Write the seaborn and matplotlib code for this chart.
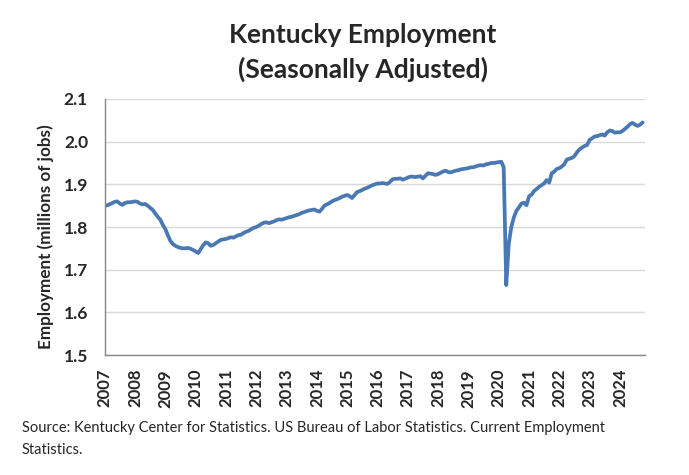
import numpy as np
import pandas as pd
import matplotlib
matplotlib.use('Agg')
import matplotlib.pyplot as plt
import seaborn as sns

# ---------------------------------------------------------
# data: Kentucky nonfarm employment, monthly, millions of jobs
# ---------------------------------------------------------
emp_2007 = [1.850, 1.851, 1.853, 1.856, 1.859, 1.860, 1.855, 1.852, 1.856, 1.858, 1.858, 1.859]
emp_2008 = [1.860, 1.859, 1.855, 1.853, 1.854, 1.850, 1.845, 1.840, 1.832, 1.824, 1.817, 1.805]
emp_2009 = [1.795, 1.780, 1.768, 1.760, 1.756, 1.753, 1.751, 1.750, 1.750, 1.751, 1.749, 1.746]
emp_2010 = [1.743, 1.739, 1.748, 1.757, 1.764, 1.762, 1.756, 1.758, 1.762, 1.766, 1.770, 1.771]
emp_2011 = [1.772, 1.774, 1.776, 1.775, 1.778, 1.781, 1.782, 1.786, 1.789, 1.791, 1.795, 1.798]
emp_2012 = [1.800, 1.803, 1.807, 1.810, 1.811, 1.809, 1.811, 1.813, 1.816, 1.818, 1.817, 1.819]
emp_2013 = [1.821, 1.823, 1.824, 1.826, 1.828, 1.830, 1.833, 1.835, 1.837, 1.839, 1.840, 1.841]
emp_2014 = [1.838, 1.836, 1.842, 1.850, 1.853, 1.856, 1.860, 1.863, 1.865, 1.868, 1.871, 1.873]
emp_2015 = [1.875, 1.872, 1.868, 1.875, 1.882, 1.884, 1.887, 1.890, 1.892, 1.895, 1.898, 1.900]
emp_2016 = [1.902, 1.902, 1.903, 1.902, 1.901, 1.906, 1.912, 1.913, 1.913, 1.914, 1.911, 1.913]
emp_2017 = [1.916, 1.918, 1.918, 1.917, 1.918, 1.919, 1.914, 1.920, 1.926, 1.925, 1.924, 1.922]
emp_2018 = [1.924, 1.927, 1.930, 1.932, 1.929, 1.928, 1.930, 1.932, 1.933, 1.935, 1.936, 1.937]
emp_2019 = [1.938, 1.940, 1.940, 1.942, 1.944, 1.945, 1.944, 1.947, 1.948, 1.950, 1.950, 1.951]
emp_2020 = [1.952, 1.953, 1.940, 1.664, 1.760, 1.800, 1.822, 1.838, 1.846, 1.855, 1.857, 1.851]
emp_2021 = [1.872, 1.876, 1.884, 1.889, 1.894, 1.898, 1.902, 1.910, 1.904, 1.926, 1.930, 1.936]
emp_2022 = [1.938, 1.942, 1.947, 1.958, 1.960, 1.962, 1.966, 1.975, 1.982, 1.986, 1.990, 1.992]
emp_2023 = [2.004, 2.008, 2.012, 2.013, 2.015, 2.017, 2.014, 2.022, 2.026, 2.025, 2.021, 2.022]
emp_2024 = [2.022, 2.025, 2.030, 2.035, 2.041, 2.044, 2.040, 2.037, 2.040, 2.045]

years = list(range(2007, 2025))
y_ticks = [1.5, 1.6, 1.7, 1.8, 1.9, 2.0, 2.1]

title = 'Kentucky Employment\n(Seasonally Adjusted)'
y_label = 'Employment (millions of jobs)'
source = ('Source: Kentucky Center for Statistics. US Bureau of Labor Statistics. Current Employment\n'
          'Statistics.')

values = (emp_2007 + emp_2008 + emp_2009 + emp_2010 + emp_2011 + emp_2012 + emp_2013 + emp_2014
          + emp_2015 + emp_2016 + emp_2017 + emp_2018 + emp_2019 + emp_2020 + emp_2021 + emp_2022
          + emp_2023 + emp_2024)
df = pd.DataFrame({'month': pd.date_range('2007-01-01', periods=len(values), freq='MS'),
                   'employment': values})

# ---------------------------------------------------------
# style
# ---------------------------------------------------------
sns.set_style('white')
plt.rcParams['font.family'] = ['Lato', 'DejaVu Sans']

fig = plt.figure(figsize=(6.89, 4.75), dpi=100)
ax = fig.add_axes([0.152, 0.2526, 0.784, 0.539])

sns.lineplot(data=df, x='month', y='employment', ax=ax, color='#4a78b3', linewidth=2.7)

ax.set_ylim(1.5, 2.1)
ax.set_yticks(y_ticks)
ax.set_yticklabels([f'{v:.1f}' for v in y_ticks], fontsize=12.5, fontweight='bold')
ax.set_xlim(pd.Timestamp('2007-01-01'), pd.Timestamp('2024-10-28'))
ax.set_xticks([pd.Timestamp(f'{y}-01-01') for y in years])
ax.set_xticklabels([str(y) for y in years], rotation=90, fontsize=12, fontweight='bold')

ax.grid(axis='y', color='#d9d9d9', linewidth=1)
ax.set_axisbelow(True)
for side in ['top', 'right']:
    ax.spines[side].set_visible(False)
for side in ['left', 'bottom']:
    ax.spines[side].set_color('#868686')
    ax.spines[side].set_linewidth(1)
ax.tick_params(axis='both', direction='out', length=4, color='#868686', width=1)
ax.tick_params(axis='x', pad=6)
ax.tick_params(axis='y', pad=8)

ax.set_xlabel('')
ax.set_ylabel(y_label, fontsize=12.3, fontweight='bold')
ax.yaxis.set_label_coords(-0.093, 0.463)

fig.text(0.527, 0.952, title, ha='center', va='top', fontsize=19, fontweight='bold',
         linespacing=1.45)
fig.text(0.032, 0.113, source, ha='left', va='top', fontsize=10.5, linespacing=1.7)

fig.savefig('out.png', dpi=100)
